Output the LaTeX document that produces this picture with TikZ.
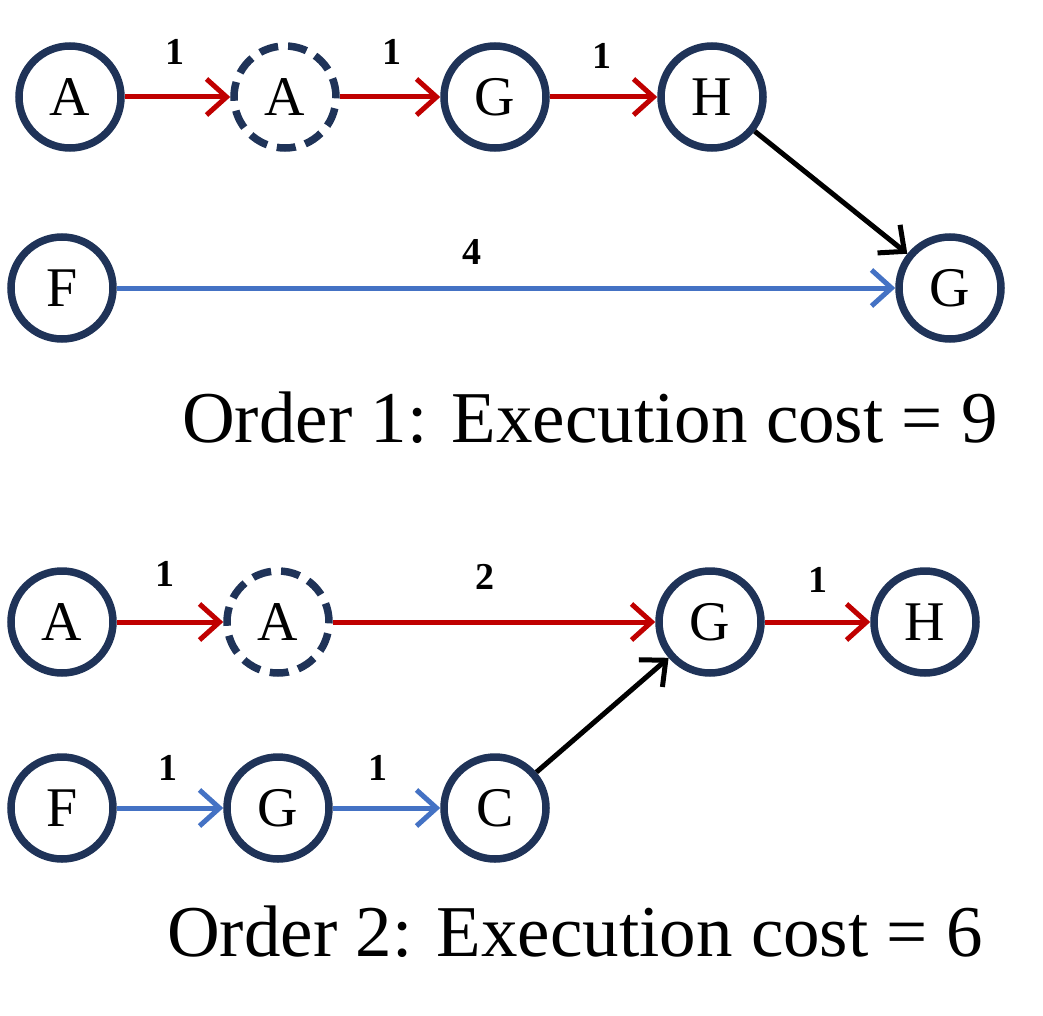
\documentclass[tikz,border=0pt]{standalone}
\usepackage{fontspec}
\setmainfont{Liberation Serif}
\usetikzlibrary{arrows.meta}
\definecolor{navy}{HTML}{1F3358}
\definecolor{rd}{HTML}{C00000}
\definecolor{bl}{HTML}{4472C4}
\begin{document}
\begin{tikzpicture}[x=1pt,y=-1pt,
  st/.style={circle,draw=navy,line width=7.5pt,minimum size=102pt,inner sep=0pt,font=\fontsize{56}{56}\selectfont},
  ds/.style={st,dash pattern=on 19pt off 10pt},
  ar/.style={line width=5pt,-{Straight Barb[length=20pt,width=36pt,line width=5pt]}},
  red/.style={ar,draw=rd},
  blue/.style={ar,draw=bl},
  blk/.style={ar,draw=black},
  lb/.style={font=\fontsize{38}{38}\selectfont\bfseries},
  tt/.style={font=\fontsize{73}{73}\selectfont}]
\useasboundingbox (0,0) rectangle (1043,1016);
\node[st] (a1) at (70,97) {A};
\node[ds] (a2) at (285,97) {A};
\node[st] (g1) at (495,97) {G};
\node[st] (h1) at (712,97) {H};
\node[st] (f1) at (62,288) {F};
\node[st] (g2) at (950,288) {G};
\draw[red] (a1) -- (a2);
\draw[red] (a2) -- (g1);
\draw[red] (g1) -- (h1);
\draw[blk] (h1) -- (g2);
\draw[blue] (f1) -- (g2);
\node[lb] (l1) at (175,52) {1};
\node[lb] (l2) at (392,52) {1};
\node[lb] (l3) at (602,56) {1};
\node[lb] (l4) at (472,252) {4};
\node[tt] (t1) at (590,418) {Order 1: Execution cost = 9};
\node[st] (b1) at (62,622) {A};
\node[ds] (b2) at (278,622) {A};
\node[st] (b3) at (710,622) {G};
\node[st] (b4) at (925,622) {H};
\node[st] (c1) at (62,808) {F};
\node[st] (c2) at (278,808) {G};
\node[st] (c3) at (495,808) {C};
\draw[red] (b1) -- (b2);
\draw[red] (b2) -- (b3);
\draw[red] (b3) -- (b4);
\draw[blue] (c1) -- (c2);
\draw[blue] (c2) -- (c3);
\draw[blk] (c3) -- (b3);
\node[lb] (m1) at (165,574) {1};
\node[lb] (m2) at (485,577) {2};
\node[lb] (m3) at (818,580) {1};
\node[lb] (m4) at (168,768) {1};
\node[lb] (m5) at (378,768) {1};
\node[tt] (t2) at (575,932) {Order 2: Execution cost = 6};
\end{tikzpicture}
\end{document}
